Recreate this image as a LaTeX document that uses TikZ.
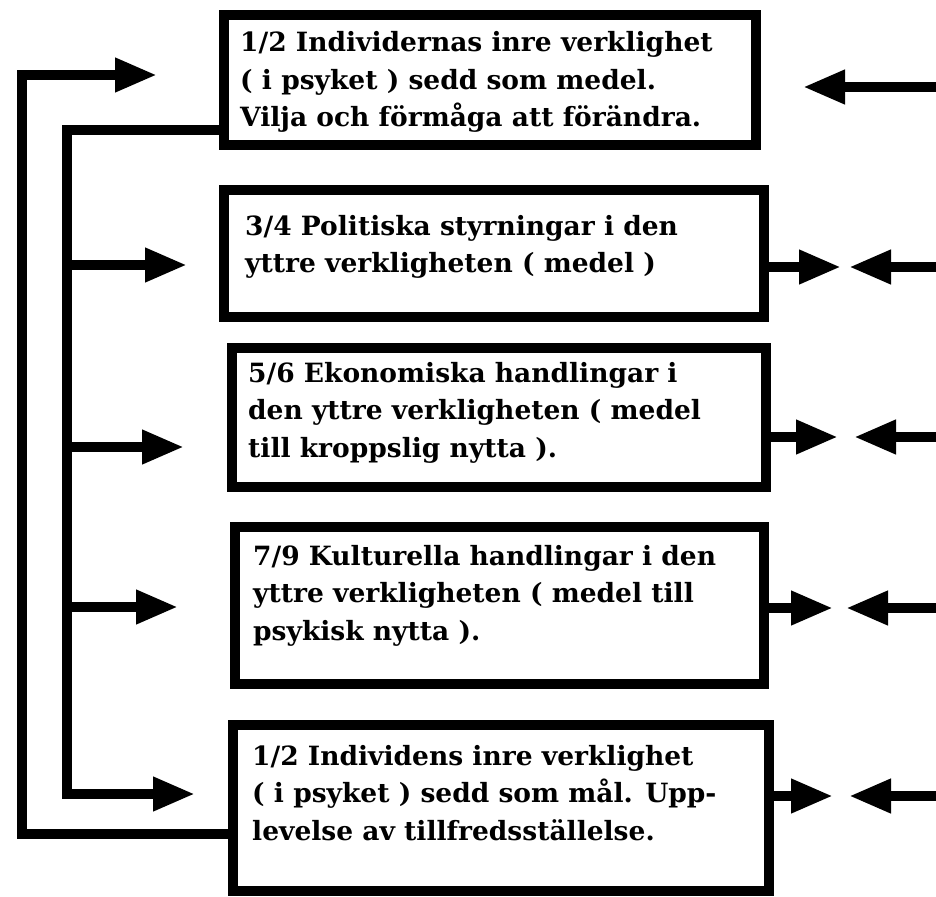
\documentclass[tikz,border=0pt]{standalone}
\usepackage{fontspec}
\setmainfont{DejaVu Serif}
\usetikzlibrary{arrows.meta}
\begin{document}
\begin{tikzpicture}[x=1pt,y=-1pt,
  box/.style={draw,rectangle,line width=10pt,inner sep=0pt,outer sep=0pt},
  txt/.style={anchor=base west,inner sep=0pt,align=left,font=\bfseries\fontsize{26.5}{37.5}\selectfont},
  conn/.style={line width=10pt,line join=miter},
  arr/.style={conn,-{Triangle[length=42pt,width=32pt]}}]
\useasboundingbox (0,0) rectangle (936,896);
% boxes
\node[box,minimum width=532pt,minimum height=130pt] (b1) at (490,80) {};
\node[box,minimum width=540pt,minimum height=127pt] (b2) at (494,253.5) {};
\node[box,minimum width=534pt,minimum height=139pt] (b3) at (499,417.5) {};
\node[box,minimum width=529pt,minimum height=157pt] (b4) at (499.5,605.5) {};
\node[box,minimum width=536pt,minimum height=166pt] (b5) at (501,808) {};
% texts (anchor = baseline of the last line)
\node[txt] (t1) at (240,127) {1/2 Individernas inre verklighet\\( i psyket ) sedd som medel.\\Vilja och förmåga att förändra.};
\node[txt] (t2) at (245,272.5) {3/4 Politiska styrningar i den\\yttre verkligheten ( medel )};
\node[txt] (t3) at (248,457) {5/6 Ekonomiska handlingar i\\den yttre verkligheten ( medel\\till kroppslig nytta ).};
\node[txt] (t4) at (253,640) {7/9 Kulturella handlingar i den\\yttre verkligheten ( medel till\\psykisk nytta ).};
\node[txt] (t5) at (252,840) {1/2 Individens inre verklighet\\( i psyket ) sedd som mål. Upp-\\levelse av tillfredsställelse.};
% left coordinates
\coordinate (o1) at (22,834);
\coordinate (o2) at (22,75);
\coordinate (la1) at (157,75);
\coordinate (i1) at (67,130);
\coordinate (i2) at (67,794);
\coordinate (la5) at (195,794);
\coordinate (la2) at (187,265);
\coordinate (la3) at (184,447);
\coordinate (la4) at (178,607);
% left connectors
\draw[arr] (b5.west |- o1) -- (o1) -- (o2) -- (la1);
\draw[arr] (b1.west |- i1) -- (i1) -- (i2) -- (la5);
\draw[arr] (i1 |- la2) -- (la2);
\draw[arr] (i1 |- la3) -- (la3);
\draw[arr] (i1 |- la4) -- (la4);
% right coordinates
\coordinate (ri1) at (803,87);
\coordinate (ro2) at (841,267);
\coordinate (ri2) at (849,267);
\coordinate (ro3) at (838,437);
\coordinate (ri3) at (854,437);
\coordinate (ro4) at (833,608);
\coordinate (ri4) at (846,608);
\coordinate (ro5) at (833,796);
\coordinate (ri5) at (849,796);
\coordinate (e1) at (945,87);
\coordinate (e2) at (945,267);
\coordinate (e3) at (945,437);
\coordinate (e4) at (945,608);
\coordinate (e5) at (945,796);
% right connectors
\draw[arr] (e1) -- (ri1);
\draw[arr] (b2.east |- ro2) -- (ro2);
\draw[arr] (e2) -- (ri2);
\draw[arr] (b3.east |- ro3) -- (ro3);
\draw[arr] (e3) -- (ri3);
\draw[arr] (b4.east |- ro4) -- (ro4);
\draw[arr] (e4) -- (ri4);
\draw[arr] (b5.east |- ro5) -- (ro5);
\draw[arr] (e5) -- (ri5);
\end{tikzpicture}
\end{document}
